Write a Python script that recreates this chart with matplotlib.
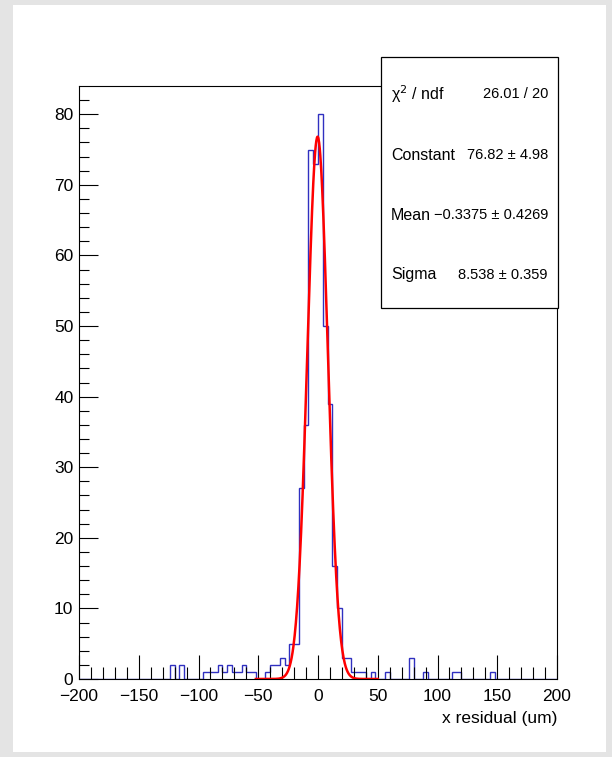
import numpy as np
import matplotlib
matplotlib.use("Agg")
import matplotlib.pyplot as plt
from matplotlib.patches import Rectangle

plt.rcParams['font.family'] = ['Liberation Sans', 'DejaVu Sans']

# histogram: 100 bins of 4 um from -200 to 200, only the filled bins listed (low edge -> count)
bin_low = [-124, -116, -96, -92, -88, -84, -80, -76, -72, -68, -64, -60, -56,
           -44, -40, -36, -32, -28, -24, -20, -16, -12, -8, -4, 0, 4, 8,
           12, 16, 20, 24, 28, 32, 36, 44, 56, 76, 88, 112, 116, 144]
counts = [2, 2, 1, 1, 1, 2, 1, 2, 1, 1, 2, 1, 1,
          1, 2, 2, 3, 2, 5, 5, 27, 36, 75, 73, 80, 50, 39,
          16, 10, 3, 3, 1, 1, 1, 1, 1, 3, 1, 1, 1, 1]

# gaus fit result
fit_const = 76.82
fit_mean = -0.3375
fit_sigma = 8.538
fit_range = (-52, 50)

stat_names = ["\u03c7$^2$ / ndf", "Constant", "Mean", "Sigma"]
stat_values = ["26.01 / 20", "76.82 \u00b1 4.98", "\u22120.3375 \u00b1 0.4269", "8.538 \u00b1 0.359"]

edges = np.arange(-200, 201, 4)
h = np.zeros(len(edges) - 1)
for lo, c in zip(bin_low, counts):
    h[(lo + 200) // 4] = c

W, H = 612, 757
fig = plt.figure(figsize=(W / 100, H / 100), dpi=100, facecolor="#e4e4e4")
fig.patches.append(Rectangle((13 / W, 1 - 752 / H), (606 - 13) / W, (752 - 5) / H,
                             transform=fig.transFigure, facecolor="white", edgecolor="none", zorder=-10))

ax = fig.add_axes([79 / W, 1 - 679 / H, (557 - 79) / W, (679 - 86) / H], zorder=1)
ax.stairs(h, edges, color="#3030c0", lw=1.0)

xf = np.linspace(fit_range[0], fit_range[1], 400)
yf = fit_const * np.exp(-0.5 * ((xf - fit_mean) / fit_sigma) ** 2)
ax.plot(xf, yf, color="red", lw=1.8)

ax.set_xlim(-200, 200)
ax.set_ylim(0, 84)
ax.set_xticks(np.arange(-200, 201, 50))
ax.set_xticks(np.arange(-200, 201, 10), minor=True)
ax.set_yticks(np.arange(0, 81, 10))
ax.set_yticks(np.arange(0, 84, 2), minor=True)
ax.set_xticklabels([str(v).replace("-", "\u2212") for v in range(-200, 201, 50)])
ax.tick_params(which="both", direction="in", top=False, right=False, labelsize=12.5, width=0.8)
ax.tick_params(axis="x", which="major", length=17, pad=7)
ax.tick_params(axis="x", which="minor", length=9)
ax.tick_params(axis="y", which="major", length=14, pad=4)
ax.tick_params(axis="y", which="minor", length=7)
for s in ax.spines.values():
    s.set_linewidth(0.8)
ax.set_xlabel("x residual (um)", fontsize=12.5, loc="right", labelpad=5)

# stats box
fig.patches.append(Rectangle((381 / W, 1 - 308 / H), (558 - 381) / W, (308 - 57) / H,
                             transform=fig.transFigure, facecolor="white", edgecolor="black",
                             lw=0.9, zorder=5))
row_y = [94, 155, 215, 275]
for name, val, yy in zip(stat_names, stat_values, row_y):
    fig.text(391 / W, 1 - yy / H, name, fontsize=11.5, va="center", ha="left", zorder=6)
    fig.text(548 / W, 1 - yy / H, val, fontsize=10.5, va="center", ha="right", zorder=6)

fig.savefig("out.png", dpi=100, facecolor=fig.get_facecolor())
